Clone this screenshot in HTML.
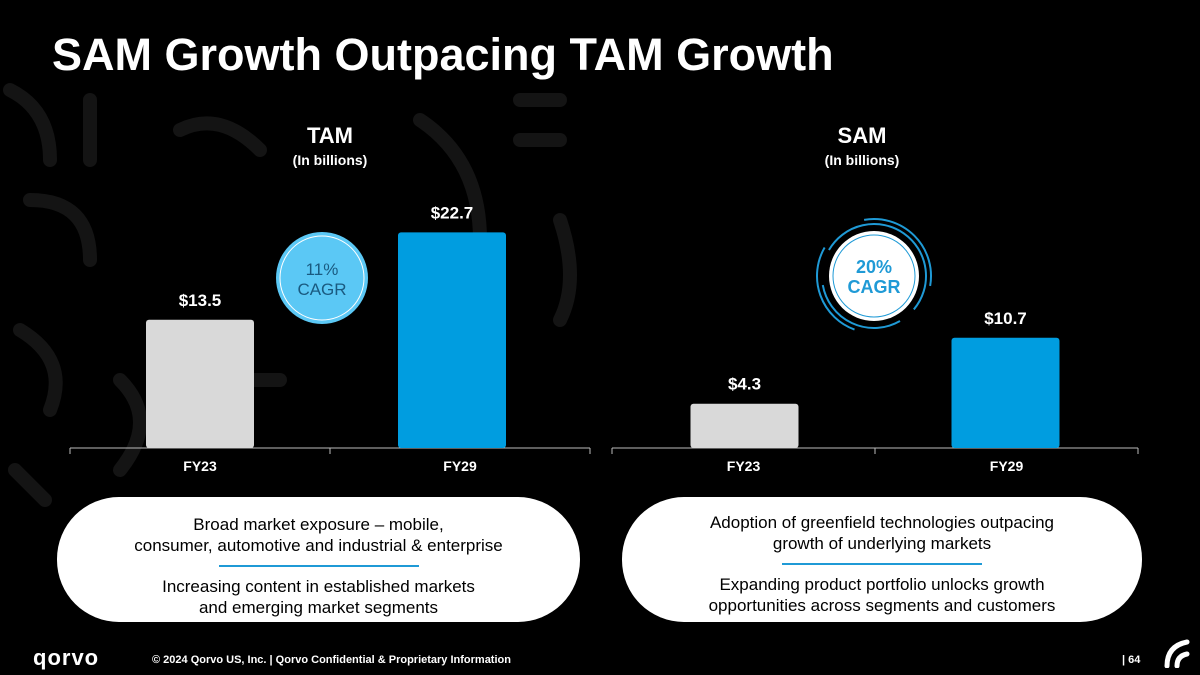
<!DOCTYPE html>
<html><head><meta charset="utf-8"><style>
body{margin:0;background:#000;}
#root{position:relative;width:1200px;height:675px;overflow:hidden;background:#000;font-family:"Liberation Sans",sans-serif;}
.t{position:absolute;color:#fff;font-weight:bold;}
.pill{position:absolute;background:#fff;border-radius:62px;color:#000;text-align:center;font-size:17px;line-height:21px;}
.pill .hr{width:200px;height:2px;background:#1f9ad6;margin:9px auto 9px;}
</style></head><body>
<div id="root">
<svg width="1200" height="675" style="position:absolute;left:0;top:0">
<g stroke="#141414" stroke-width="14" fill="none" stroke-linecap="round">
<path d="M10 90 q40 20 40 70"/><path d="M30 200 q60 0 60 60"/><path d="M20 330 q50 30 30 80"/><path d="M90 100 l0 60"/><path d="M120 380 q40 40 0 90"/><path d="M15 470 l30 30"/><path d="M180 130 q40 -20 80 20"/><path d="M420 120 q60 40 60 120"/><path d="M520 100 l40 0"/><path d="M520 140 l40 0"/><path d="M560 220 q20 60 0 100"/><path d="M230 380 l50 0"/>
</g></svg>
<div class="t" style="left:52px;top:29px;font-size:45px;">SAM Growth Outpacing TAM Growth</div>
<div class="t" style="left:230px;top:123px;width:200px;text-align:center;font-size:22px">TAM</div>
<div class="t" style="left:230px;top:152px;width:200px;text-align:center;font-size:14px">(In billions)</div>
<div class="t" style="left:762px;top:123px;width:200px;text-align:center;font-size:22px">SAM</div>
<div class="t" style="left:762px;top:152px;width:200px;text-align:center;font-size:14px">(In billions)</div>
<svg id="chart" width="1200" height="675" style="position:absolute;left:0;top:0"></svg>
<div class="pill" style="left:57px;top:497px;width:523px;height:125px;"><div style="padding-top:17px">Broad market exposure – mobile,<br>consumer, automotive and industrial &amp; enterprise</div><div class="hr"></div><div>Increasing content in established markets<br>and emerging market segments</div></div>
<div class="pill" style="left:622px;top:497px;width:520px;height:125px;"><div style="padding-top:15px">Adoption of greenfield technologies outpacing<br>growth of underlying markets</div><div class="hr"></div><div>Expanding product portfolio unlocks growth<br>opportunities across segments and customers</div></div>
<div class="t" style="left:33px;top:645px;font-size:22px;letter-spacing:1px">qorvo</div>
<div class="t" style="left:152px;top:654px;font-size:11px">© 2024 Qorvo US, Inc. | Qorvo Confidential &amp; Proprietary Information</div>
<div class="t" style="left:1122px;top:654px;font-size:11px">| 64</div>
<svg width="30" height="30" style="position:absolute;left:1162px;top:638px"><path d="M5 28 q0 -20 20 -24" stroke="#fff" stroke-width="5" fill="none" stroke-linecap="round"/><path d="M15 28 q0 -10 10 -12" stroke="#fff" stroke-width="5" fill="none" stroke-linecap="round"/></svg>
</div>
<script>
const tamCategories=["FY23","FY29"];
const tamValues=[13.5,22.7];
const tamLabels=["$13.5","$22.7"];
const samCategories=["FY23","FY29"];
const samValues=[4.3,10.7];
const samLabels=["$4.3","$10.7"];
const NS="http://www.w3.org/2000/svg";
const svg=document.getElementById('chart');
function mk(t,a){const e=document.createElementNS(NS,t);for(const k in a)e.setAttribute(k,a[k]);svg.appendChild(e);return e;}
function drawChart(cats,vals,labs,x0,x1,pxPer,prefix,shift){
  const base=448;const bw=(x1-x0)/cats.length;
  const ax=mk('line',{x1:x0,x2:x1,y1:base,y2:base,stroke:'#bbb','stroke-width':1});
  
  
  for(let i=0;i<=cats.length;i++){const tk=mk('line',{x1:x0+i*bw,x2:x0+i*bw,y1:base,y2:base+6,stroke:'#bbb'});
    
    }
  cats.forEach((c,i)=>{
    const cx=x0+bw*(i+0.5);const bx=cx+shift[i];const h=vals[i]*pxPer;const w=108;
    const r=mk('rect',{x:bx-w/2,y:base-h,width:w,height:h,rx:3,fill:i==0?'#d9d9d9':'#009de0'});
    
    
    const l=mk('text',{x:bx,y:base-h-14,'text-anchor':'middle',fill:'#fff','font-size':17,'font-weight':'bold','font-family':'Liberation Sans,sans-serif'});
    l.textContent=labs[i];
    
    
    const t=mk('text',{x:cx,y:base+23,'text-anchor':'middle',fill:'#fff','font-size':14,'font-weight':'bold','font-family':'Liberation Sans,sans-serif'});
    t.textContent=c;
    
    
  });
}
drawChart(tamCategories,tamValues,tamLabels,70,590,9.5,'tam',[0,-8]);
drawChart(samCategories,samValues,samLabels,612,1138,10.3,'sam',[1,-1]);
let c1=mk('circle',{cx:322,cy:278,r:46,fill:'#5bc8f5'});


mk('circle',{cx:322,cy:278,r:42,fill:'none',stroke:'#fff','stroke-width':1});
let g=mk('text',{x:322,y:275,'text-anchor':'middle',fill:'#1a5a80','font-size':17,'font-family':'Liberation Sans,sans-serif'});g.textContent='11%';


g=mk('text',{x:322,y:295,'text-anchor':'middle',fill:'#1a5a80','font-size':17,'font-family':'Liberation Sans,sans-serif'});g.textContent='CAGR';


let c2=mk('circle',{cx:874,cy:276,r:45,fill:'#fff'});


mk('circle',{cx:874,cy:276,r:41,fill:'none',stroke:'#1f9ad6','stroke-width':1});
[[52,-150,40],[52,60,170],[57,-100,10],[57,110,210]].forEach(([r,a0,a1])=>{
  const p=(a)=>[874+r*Math.cos(a*Math.PI/180),276+r*Math.sin(a*Math.PI/180)];
  const s=p(a0),e=p(a1);
  mk('path',{d:`M${s[0]} ${s[1]} A${r} ${r} 0 ${(a1-a0)>180?1:0} 1 ${e[0]} ${e[1]}`,fill:'none',stroke:'#1f9ad6','stroke-width':2});
});
g=mk('text',{x:874,y:273,'text-anchor':'middle',fill:'#1f9ad6','font-size':18,'font-weight':'bold','font-family':'Liberation Sans,sans-serif'});g.textContent='20%';


g=mk('text',{x:874,y:293,'text-anchor':'middle',fill:'#1f9ad6','font-size':18,'font-weight':'bold','font-family':'Liberation Sans,sans-serif'});g.textContent='CAGR';


</script>
</body></html>
